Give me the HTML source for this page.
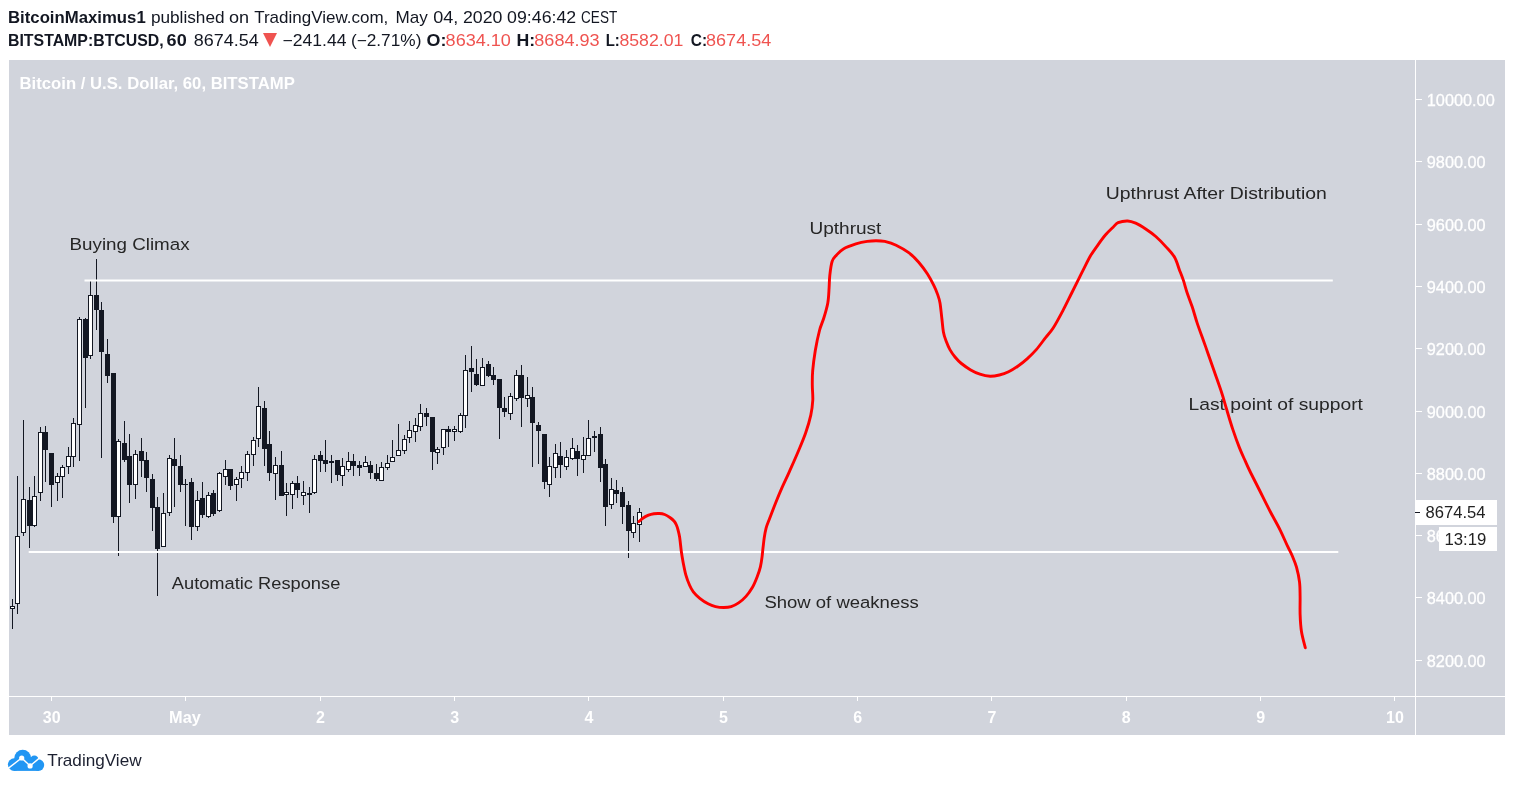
<!DOCTYPE html>
<html><head><meta charset="utf-8"><title>BTCUSD chart</title>
<style>
html,body{margin:0;padding:0;background:#fff;}
body{width:1514px;height:785px;overflow:hidden;position:relative;}
svg{position:absolute;left:0;top:0;display:block;will-change:transform;}
text{font-family:"Liberation Sans",sans-serif;white-space:pre;}
</style></head><body>
<svg width="1514" height="785" viewBox="0 0 1514 785">
<text x="8.0" y="22.7" font-size="16.2" fill="#131722" font-weight="bold" text-anchor="start" textLength="137.7" lengthAdjust="spacingAndGlyphs">BitcoinMaximus1</text>
<text x="150.9" y="22.7" font-size="16.2" fill="#131722" font-weight="normal" text-anchor="start" textLength="73.7" lengthAdjust="spacingAndGlyphs">published</text>
<text x="228.9" y="22.7" font-size="16.2" fill="#131722" font-weight="normal" text-anchor="start" textLength="20.1" lengthAdjust="spacingAndGlyphs">on</text>
<text x="254.2" y="22.7" font-size="16.2" fill="#131722" font-weight="normal" text-anchor="start" textLength="134.1" lengthAdjust="spacingAndGlyphs">TradingView.com,</text>
<text x="395.4" y="22.7" font-size="16.2" fill="#131722" font-weight="normal" text-anchor="start" textLength="32.3" lengthAdjust="spacingAndGlyphs">May</text>
<text x="433.2" y="22.7" font-size="16.2" fill="#131722" font-weight="normal" text-anchor="start" textLength="25.1" lengthAdjust="spacingAndGlyphs">04,</text>
<text x="463.0" y="22.7" font-size="16.2" fill="#131722" font-weight="normal" text-anchor="start" textLength="39.5" lengthAdjust="spacingAndGlyphs">2020</text>
<text x="507.1" y="22.7" font-size="16.2" fill="#131722" font-weight="normal" text-anchor="start" textLength="69.1" lengthAdjust="spacingAndGlyphs">09:46:42</text>
<text x="581.1" y="22.7" font-size="16.2" fill="#131722" font-weight="normal" text-anchor="start" textLength="36.1" lengthAdjust="spacingAndGlyphs">CEST</text>
<text x="8.0" y="46" font-size="16.2" fill="#131722" font-weight="bold" text-anchor="start" textLength="155.7" lengthAdjust="spacingAndGlyphs">BITSTAMP:BTCUSD,</text>
<text x="166.6" y="46" font-size="16.2" fill="#131722" font-weight="bold" text-anchor="start" textLength="20.1" lengthAdjust="spacingAndGlyphs">60</text>
<text x="193.8" y="46" font-size="16.2" fill="#131722" font-weight="normal" text-anchor="start" textLength="64.9" lengthAdjust="spacingAndGlyphs">8674.54</text>
<text x="282.5" y="46" font-size="16.2" fill="#131722" font-weight="normal" text-anchor="start" textLength="63.9" lengthAdjust="spacingAndGlyphs">−241.44</text>
<text x="350.9" y="46" font-size="16.2" fill="#131722" font-weight="normal" text-anchor="start" textLength="70.5" lengthAdjust="spacingAndGlyphs">(−2.71%)</text>
<text x="426.6" y="46" font-size="16.2" fill="#131722" font-weight="bold" text-anchor="start" textLength="19.9" lengthAdjust="spacingAndGlyphs">O:</text>
<text x="445.6" y="46" font-size="16.2" fill="#ef5350" font-weight="normal" text-anchor="start" textLength="65.3" lengthAdjust="spacingAndGlyphs">8634.10</text>
<text x="516.4" y="46" font-size="16.2" fill="#131722" font-weight="bold" text-anchor="start" textLength="18.7" lengthAdjust="spacingAndGlyphs">H:</text>
<text x="534.3" y="46" font-size="16.2" fill="#ef5350" font-weight="normal" text-anchor="start" textLength="65.3" lengthAdjust="spacingAndGlyphs">8684.93</text>
<text x="605.7" y="46" font-size="16.2" fill="#131722" font-weight="bold" text-anchor="start" textLength="14.1" lengthAdjust="spacingAndGlyphs">L:</text>
<text x="619.4" y="46" font-size="16.2" fill="#ef5350" font-weight="normal" text-anchor="start" textLength="63.9" lengthAdjust="spacingAndGlyphs">8582.01</text>
<text x="690.8" y="46" font-size="16.2" fill="#131722" font-weight="bold" text-anchor="start" textLength="16.3" lengthAdjust="spacingAndGlyphs">C:</text>
<text x="706.1" y="46" font-size="16.2" fill="#ef5350" font-weight="normal" text-anchor="start" textLength="65.1" lengthAdjust="spacingAndGlyphs">8674.54</text>
<path d="M263,32.9 L277,32.9 L270,46.9 Z" fill="#ef5350"/>
<rect x="9" y="60" width="1496" height="675" fill="#d1d4dc"/>
<text x="19.5" y="89.1" font-size="16.2" fill="#fff" font-weight="bold" text-anchor="start" textLength="275.3" lengthAdjust="spacingAndGlyphs">Bitcoin / U.S. Dollar, 60, BITSTAMP</text>
<rect x="1415" y="60" width="1" height="675" fill="#fff"/>
<rect x="9" y="696" width="1496" height="1" fill="#fff"/>
<rect x="1416" y="99" width="6" height="1" fill="#fff"/>
<text x="1426.8" y="105.8" font-size="16.3" fill="#fff" font-weight="normal" text-anchor="start" stroke="#fff" stroke-width="0.3">10000.00</text>
<rect x="1416" y="161" width="6" height="1" fill="#fff"/>
<text x="1426.8" y="167.8" font-size="16.3" fill="#fff" font-weight="normal" text-anchor="start" stroke="#fff" stroke-width="0.3">9800.00</text>
<rect x="1416" y="224" width="6" height="1" fill="#fff"/>
<text x="1426.8" y="230.8" font-size="16.3" fill="#fff" font-weight="normal" text-anchor="start" stroke="#fff" stroke-width="0.3">9600.00</text>
<rect x="1416" y="286" width="6" height="1" fill="#fff"/>
<text x="1426.8" y="292.8" font-size="16.3" fill="#fff" font-weight="normal" text-anchor="start" stroke="#fff" stroke-width="0.3">9400.00</text>
<rect x="1416" y="348" width="6" height="1" fill="#fff"/>
<text x="1426.8" y="354.8" font-size="16.3" fill="#fff" font-weight="normal" text-anchor="start" stroke="#fff" stroke-width="0.3">9200.00</text>
<rect x="1416" y="411" width="6" height="1" fill="#fff"/>
<text x="1426.8" y="417.8" font-size="16.3" fill="#fff" font-weight="normal" text-anchor="start" stroke="#fff" stroke-width="0.3">9000.00</text>
<rect x="1416" y="473" width="6" height="1" fill="#fff"/>
<text x="1426.8" y="479.8" font-size="16.3" fill="#fff" font-weight="normal" text-anchor="start" stroke="#fff" stroke-width="0.3">8800.00</text>
<rect x="1416" y="535" width="6" height="1" fill="#fff"/>
<text x="1426.8" y="541.8" font-size="16.3" fill="#fff" font-weight="normal" text-anchor="start" stroke="#fff" stroke-width="0.3">8600.00</text>
<rect x="1416" y="597" width="6" height="1" fill="#fff"/>
<text x="1426.8" y="603.8" font-size="16.3" fill="#fff" font-weight="normal" text-anchor="start" stroke="#fff" stroke-width="0.3">8400.00</text>
<rect x="1416" y="660" width="6" height="1" fill="#fff"/>
<text x="1426.8" y="666.8" font-size="16.3" fill="#fff" font-weight="normal" text-anchor="start" stroke="#fff" stroke-width="0.3">8200.00</text>
<rect x="51" y="697" width="1" height="4" fill="#fff"/>
<text x="51.7" y="722.9" font-size="16" fill="#fff" font-weight="bold" text-anchor="middle">30</text>
<rect x="185" y="697" width="1" height="4" fill="#fff"/>
<text x="169.1" y="722.9" font-size="16" fill="#fff" font-weight="bold" text-anchor="start" textLength="31.7" lengthAdjust="spacingAndGlyphs">May</text>
<rect x="320" y="697" width="1" height="4" fill="#fff"/>
<text x="320.4" y="722.9" font-size="16" fill="#fff" font-weight="bold" text-anchor="middle">2</text>
<rect x="454" y="697" width="1" height="4" fill="#fff"/>
<text x="454.7" y="722.9" font-size="16" fill="#fff" font-weight="bold" text-anchor="middle">3</text>
<rect x="588" y="697" width="1" height="4" fill="#fff"/>
<text x="589.0" y="722.9" font-size="16" fill="#fff" font-weight="bold" text-anchor="middle">4</text>
<rect x="723" y="697" width="1" height="4" fill="#fff"/>
<text x="723.4" y="722.9" font-size="16" fill="#fff" font-weight="bold" text-anchor="middle">5</text>
<rect x="857" y="697" width="1" height="4" fill="#fff"/>
<text x="857.7" y="722.9" font-size="16" fill="#fff" font-weight="bold" text-anchor="middle">6</text>
<rect x="991" y="697" width="1" height="4" fill="#fff"/>
<text x="992.0" y="722.9" font-size="16" fill="#fff" font-weight="bold" text-anchor="middle">7</text>
<rect x="1126" y="697" width="1" height="4" fill="#fff"/>
<text x="1126.3" y="722.9" font-size="16" fill="#fff" font-weight="bold" text-anchor="middle">8</text>
<rect x="1260" y="697" width="1" height="4" fill="#fff"/>
<text x="1260.7" y="722.9" font-size="16" fill="#fff" font-weight="bold" text-anchor="middle">9</text>
<rect x="1394" y="697" width="1" height="4" fill="#fff"/>
<text x="1395.0" y="722.9" font-size="16" fill="#fff" font-weight="bold" text-anchor="middle">10</text>
<g shape-rendering="crispEdges"><rect x="12" y="599" width="1" height="30" fill="#131722"/>
<rect x="10.5" y="606.5" width="4" height="2" fill="#fff" stroke="#131722" stroke-width="1"/>
<rect x="17" y="476" width="1" height="138" fill="#131722"/>
<rect x="15.5" y="536.5" width="4" height="67" fill="#fff" stroke="#131722" stroke-width="1"/>
<rect x="23" y="420" width="1" height="116" fill="#131722"/>
<rect x="21.5" y="499.5" width="4" height="33" fill="#fff" stroke="#131722" stroke-width="1"/>
<rect x="29" y="487" width="1" height="61" fill="#131722"/>
<rect x="27" y="500" width="5" height="26" fill="#131722"/>
<rect x="34" y="476" width="1" height="51" fill="#131722"/>
<rect x="32.5" y="496.5" width="4" height="29" fill="#fff" stroke="#131722" stroke-width="1"/>
<rect x="40" y="427" width="1" height="74" fill="#131722"/>
<rect x="38.5" y="432.5" width="4" height="60" fill="#fff" stroke="#131722" stroke-width="1"/>
<rect x="45" y="426" width="1" height="56" fill="#131722"/>
<rect x="43" y="432" width="5" height="18" fill="#131722"/>
<rect x="51" y="453" width="1" height="54" fill="#131722"/>
<rect x="49" y="453" width="5" height="32" fill="#131722"/>
<rect x="57" y="473" width="1" height="28" fill="#131722"/>
<rect x="55.5" y="476.5" width="4" height="6" fill="#fff" stroke="#131722" stroke-width="1"/>
<rect x="62" y="465" width="1" height="33" fill="#131722"/>
<rect x="60.5" y="467.5" width="4" height="9" fill="#fff" stroke="#131722" stroke-width="1"/>
<rect x="68" y="447" width="1" height="27" fill="#131722"/>
<rect x="66.5" y="456.5" width="4" height="10" fill="#fff" stroke="#131722" stroke-width="1"/>
<rect x="73" y="418" width="1" height="49" fill="#131722"/>
<rect x="71.5" y="423.5" width="4" height="33" fill="#fff" stroke="#131722" stroke-width="1"/>
<rect x="79" y="317" width="1" height="144" fill="#131722"/>
<rect x="77.5" y="319.5" width="4" height="105" fill="#fff" stroke="#131722" stroke-width="1"/>
<rect x="85" y="318" width="1" height="90" fill="#131722"/>
<rect x="83" y="319" width="5" height="39" fill="#131722"/>
<rect x="90" y="281" width="1" height="78" fill="#131722"/>
<rect x="88.5" y="295.5" width="4" height="60" fill="#fff" stroke="#131722" stroke-width="1"/>
<rect x="96" y="259" width="1" height="71" fill="#131722"/>
<rect x="94" y="295" width="5" height="15" fill="#131722"/>
<rect x="101" y="302" width="1" height="156" fill="#131722"/>
<rect x="99" y="310" width="5" height="42" fill="#131722"/>
<rect x="107" y="339" width="1" height="44" fill="#131722"/>
<rect x="105" y="354" width="5" height="22" fill="#131722"/>
<rect x="113" y="373" width="1" height="150" fill="#131722"/>
<rect x="111" y="373" width="5" height="144" fill="#131722"/>
<rect x="118" y="439" width="1" height="117" fill="#131722"/>
<rect x="116.5" y="441.5" width="4" height="75" fill="#fff" stroke="#131722" stroke-width="1"/>
<rect x="124" y="421" width="1" height="41" fill="#131722"/>
<rect x="122" y="443" width="5" height="17" fill="#131722"/>
<rect x="129" y="434" width="1" height="69" fill="#131722"/>
<rect x="127" y="456" width="5" height="29" fill="#131722"/>
<rect x="135" y="450" width="1" height="49" fill="#131722"/>
<rect x="133.5" y="454.5" width="4" height="30" fill="#fff" stroke="#131722" stroke-width="1"/>
<rect x="141" y="438" width="1" height="39" fill="#131722"/>
<rect x="139" y="451" width="5" height="10" fill="#131722"/>
<rect x="146" y="452" width="1" height="40" fill="#131722"/>
<rect x="144" y="460" width="5" height="18" fill="#131722"/>
<rect x="152" y="474" width="1" height="57" fill="#131722"/>
<rect x="150" y="479" width="5" height="29" fill="#131722"/>
<rect x="157" y="497" width="1" height="99" fill="#131722"/>
<rect x="155" y="507" width="5" height="42" fill="#131722"/>
<rect x="163" y="493" width="1" height="54" fill="#131722"/>
<rect x="161.5" y="513.5" width="4" height="33" fill="#fff" stroke="#131722" stroke-width="1"/>
<rect x="169" y="455" width="1" height="61" fill="#131722"/>
<rect x="167.5" y="458.5" width="4" height="54" fill="#fff" stroke="#131722" stroke-width="1"/>
<rect x="174" y="438" width="1" height="69" fill="#131722"/>
<rect x="172" y="459" width="5" height="7" fill="#131722"/>
<rect x="180" y="455" width="1" height="37" fill="#131722"/>
<rect x="178" y="466" width="5" height="19" fill="#131722"/>
<rect x="185" y="479" width="1" height="47" fill="#131722"/>
<rect x="183" y="484" width="5" height="1" fill="#131722"/>
<rect x="191" y="478" width="1" height="62" fill="#131722"/>
<rect x="189" y="482" width="5" height="45" fill="#131722"/>
<rect x="197" y="491" width="1" height="40" fill="#131722"/>
<rect x="195.5" y="500.5" width="4" height="26" fill="#fff" stroke="#131722" stroke-width="1"/>
<rect x="202" y="482" width="1" height="36" fill="#131722"/>
<rect x="200" y="498" width="5" height="17" fill="#131722"/>
<rect x="208" y="492" width="1" height="26" fill="#131722"/>
<rect x="206.5" y="495.5" width="4" height="21" fill="#fff" stroke="#131722" stroke-width="1"/>
<rect x="213" y="490" width="1" height="26" fill="#131722"/>
<rect x="211" y="493" width="5" height="21" fill="#131722"/>
<rect x="219" y="472" width="1" height="40" fill="#131722"/>
<rect x="217.5" y="473.5" width="4" height="37" fill="#fff" stroke="#131722" stroke-width="1"/>
<rect x="225" y="460" width="1" height="25" fill="#131722"/>
<rect x="223.5" y="469.5" width="4" height="7" fill="#fff" stroke="#131722" stroke-width="1"/>
<rect x="230" y="469" width="1" height="21" fill="#131722"/>
<rect x="228" y="469" width="5" height="17" fill="#131722"/>
<rect x="236" y="477" width="1" height="24" fill="#131722"/>
<rect x="234.5" y="479.5" width="4" height="5" fill="#fff" stroke="#131722" stroke-width="1"/>
<rect x="241" y="466" width="1" height="22" fill="#131722"/>
<rect x="239.5" y="472.5" width="4" height="6" fill="#fff" stroke="#131722" stroke-width="1"/>
<rect x="247" y="451" width="1" height="30" fill="#131722"/>
<rect x="245.5" y="454.5" width="4" height="18" fill="#fff" stroke="#131722" stroke-width="1"/>
<rect x="253" y="437" width="1" height="29" fill="#131722"/>
<rect x="251.5" y="440.5" width="4" height="14" fill="#fff" stroke="#131722" stroke-width="1"/>
<rect x="258" y="387" width="1" height="60" fill="#131722"/>
<rect x="256.5" y="406.5" width="4" height="32" fill="#fff" stroke="#131722" stroke-width="1"/>
<rect x="264" y="401" width="1" height="65" fill="#131722"/>
<rect x="262" y="408" width="5" height="41" fill="#131722"/>
<rect x="269" y="431" width="1" height="50" fill="#131722"/>
<rect x="267" y="444" width="5" height="29" fill="#131722"/>
<rect x="275" y="457" width="1" height="43" fill="#131722"/>
<rect x="273.5" y="465.5" width="4" height="8" fill="#fff" stroke="#131722" stroke-width="1"/>
<rect x="281" y="451" width="1" height="45" fill="#131722"/>
<rect x="279" y="465" width="5" height="31" fill="#131722"/>
<rect x="286" y="483" width="1" height="33" fill="#131722"/>
<rect x="284.5" y="492.5" width="4" height="2" fill="#fff" stroke="#131722" stroke-width="1"/>
<rect x="292" y="481" width="1" height="28" fill="#131722"/>
<rect x="290.5" y="483.5" width="4" height="11" fill="#fff" stroke="#131722" stroke-width="1"/>
<rect x="297" y="476" width="1" height="22" fill="#131722"/>
<rect x="295" y="483" width="5" height="7" fill="#131722"/>
<rect x="303" y="481" width="1" height="24" fill="#131722"/>
<rect x="301.5" y="492.5" width="4" height="3" fill="#fff" stroke="#131722" stroke-width="1"/>
<rect x="309" y="487" width="1" height="26" fill="#131722"/>
<rect x="307" y="493" width="5" height="2" fill="#131722"/>
<rect x="314" y="455" width="1" height="39" fill="#131722"/>
<rect x="312.5" y="459.5" width="4" height="33" fill="#fff" stroke="#131722" stroke-width="1"/>
<rect x="320" y="451" width="1" height="21" fill="#131722"/>
<rect x="318" y="455" width="5" height="6" fill="#131722"/>
<rect x="325" y="440" width="1" height="32" fill="#131722"/>
<rect x="323" y="460" width="5" height="4" fill="#131722"/>
<rect x="331" y="455" width="1" height="28" fill="#131722"/>
<rect x="329" y="461" width="5" height="2" fill="#131722"/>
<rect x="337" y="460" width="1" height="21" fill="#131722"/>
<rect x="335" y="460" width="5" height="15" fill="#131722"/>
<rect x="342" y="458" width="1" height="28" fill="#131722"/>
<rect x="340.5" y="466.5" width="4" height="9" fill="#fff" stroke="#131722" stroke-width="1"/>
<rect x="348" y="452" width="1" height="20" fill="#131722"/>
<rect x="346.5" y="461.5" width="4" height="8" fill="#fff" stroke="#131722" stroke-width="1"/>
<rect x="353" y="454" width="1" height="22" fill="#131722"/>
<rect x="351" y="461" width="5" height="5" fill="#131722"/>
<rect x="359" y="461" width="1" height="15" fill="#131722"/>
<rect x="357" y="465" width="5" height="3" fill="#131722"/>
<rect x="365" y="456" width="1" height="11" fill="#131722"/>
<rect x="363.5" y="462.5" width="4" height="4" fill="#fff" stroke="#131722" stroke-width="1"/>
<rect x="370" y="461" width="1" height="18" fill="#131722"/>
<rect x="368" y="465" width="5" height="8" fill="#131722"/>
<rect x="376" y="464" width="1" height="17" fill="#131722"/>
<rect x="374" y="473" width="5" height="6" fill="#131722"/>
<rect x="381" y="462" width="1" height="19" fill="#131722"/>
<rect x="379.5" y="467.5" width="4" height="13" fill="#fff" stroke="#131722" stroke-width="1"/>
<rect x="387" y="455" width="1" height="15" fill="#131722"/>
<rect x="385.5" y="463.5" width="4" height="4" fill="#fff" stroke="#131722" stroke-width="1"/>
<rect x="392" y="440" width="1" height="22" fill="#131722"/>
<rect x="390.5" y="457.5" width="4" height="4" fill="#fff" stroke="#131722" stroke-width="1"/>
<rect x="398" y="424" width="1" height="32" fill="#131722"/>
<rect x="396.5" y="450.5" width="4" height="5" fill="#fff" stroke="#131722" stroke-width="1"/>
<rect x="404" y="435" width="1" height="19" fill="#131722"/>
<rect x="402.5" y="439.5" width="4" height="11" fill="#fff" stroke="#131722" stroke-width="1"/>
<rect x="409" y="421" width="1" height="22" fill="#131722"/>
<rect x="407.5" y="430.5" width="4" height="7" fill="#fff" stroke="#131722" stroke-width="1"/>
<rect x="415" y="418" width="1" height="24" fill="#131722"/>
<rect x="413.5" y="425.5" width="4" height="6" fill="#fff" stroke="#131722" stroke-width="1"/>
<rect x="420" y="404" width="1" height="27" fill="#131722"/>
<rect x="418.5" y="413.5" width="4" height="13" fill="#fff" stroke="#131722" stroke-width="1"/>
<rect x="426" y="408" width="1" height="18" fill="#131722"/>
<rect x="424" y="413" width="5" height="4" fill="#131722"/>
<rect x="432" y="417" width="1" height="53" fill="#131722"/>
<rect x="430" y="417" width="5" height="35" fill="#131722"/>
<rect x="437" y="447" width="1" height="17" fill="#131722"/>
<rect x="435.5" y="449.5" width="4" height="3" fill="#fff" stroke="#131722" stroke-width="1"/>
<rect x="443" y="429" width="1" height="26" fill="#131722"/>
<rect x="441.5" y="429.5" width="4" height="18" fill="#fff" stroke="#131722" stroke-width="1"/>
<rect x="448" y="426" width="1" height="21" fill="#131722"/>
<rect x="446" y="429" width="5" height="3" fill="#131722"/>
<rect x="454" y="426" width="1" height="15" fill="#131722"/>
<rect x="452.5" y="429.5" width="4" height="2" fill="#fff" stroke="#131722" stroke-width="1"/>
<rect x="460" y="413" width="1" height="20" fill="#131722"/>
<rect x="458.5" y="415.5" width="4" height="16" fill="#fff" stroke="#131722" stroke-width="1"/>
<rect x="465" y="355" width="1" height="73" fill="#131722"/>
<rect x="463.5" y="370.5" width="4" height="45" fill="#fff" stroke="#131722" stroke-width="1"/>
<rect x="471" y="346" width="1" height="46" fill="#131722"/>
<rect x="469" y="368" width="5" height="4" fill="#131722"/>
<rect x="476" y="359" width="1" height="27" fill="#131722"/>
<rect x="474" y="374" width="5" height="11" fill="#131722"/>
<rect x="482" y="358" width="1" height="28" fill="#131722"/>
<rect x="480.5" y="367.5" width="4" height="18" fill="#fff" stroke="#131722" stroke-width="1"/>
<rect x="488" y="361" width="1" height="16" fill="#131722"/>
<rect x="486" y="364" width="5" height="12" fill="#131722"/>
<rect x="493" y="367" width="1" height="18" fill="#131722"/>
<rect x="491" y="375" width="5" height="5" fill="#131722"/>
<rect x="499" y="379" width="1" height="60" fill="#131722"/>
<rect x="497" y="379" width="5" height="29" fill="#131722"/>
<rect x="504" y="397" width="1" height="20" fill="#131722"/>
<rect x="502" y="408" width="5" height="4" fill="#131722"/>
<rect x="510" y="393" width="1" height="27" fill="#131722"/>
<rect x="508.5" y="396.5" width="4" height="17" fill="#fff" stroke="#131722" stroke-width="1"/>
<rect x="516" y="370" width="1" height="31" fill="#131722"/>
<rect x="514.5" y="375.5" width="4" height="23" fill="#fff" stroke="#131722" stroke-width="1"/>
<rect x="521" y="365" width="1" height="62" fill="#131722"/>
<rect x="519" y="375" width="5" height="23" fill="#131722"/>
<rect x="527" y="377" width="1" height="30" fill="#131722"/>
<rect x="525.5" y="395.5" width="4" height="3" fill="#fff" stroke="#131722" stroke-width="1"/>
<rect x="532" y="387" width="1" height="80" fill="#131722"/>
<rect x="530" y="397" width="5" height="26" fill="#131722"/>
<rect x="538" y="422" width="1" height="42" fill="#131722"/>
<rect x="536" y="425" width="5" height="6" fill="#131722"/>
<rect x="544" y="434" width="1" height="55" fill="#131722"/>
<rect x="542" y="434" width="5" height="48" fill="#131722"/>
<rect x="549" y="457" width="1" height="40" fill="#131722"/>
<rect x="547.5" y="466.5" width="4" height="18" fill="#fff" stroke="#131722" stroke-width="1"/>
<rect x="555" y="444" width="1" height="34" fill="#131722"/>
<rect x="553.5" y="453.5" width="4" height="14" fill="#fff" stroke="#131722" stroke-width="1"/>
<rect x="560" y="442" width="1" height="36" fill="#131722"/>
<rect x="558" y="456" width="5" height="9" fill="#131722"/>
<rect x="566" y="450" width="1" height="20" fill="#131722"/>
<rect x="564.5" y="457.5" width="4" height="9" fill="#fff" stroke="#131722" stroke-width="1"/>
<rect x="572" y="438" width="1" height="22" fill="#131722"/>
<rect x="570.5" y="448.5" width="4" height="10" fill="#fff" stroke="#131722" stroke-width="1"/>
<rect x="577" y="445" width="1" height="31" fill="#131722"/>
<rect x="575" y="451" width="5" height="8" fill="#131722"/>
<rect x="583" y="437" width="1" height="36" fill="#131722"/>
<rect x="581.5" y="455.5" width="4" height="4" fill="#fff" stroke="#131722" stroke-width="1"/>
<rect x="588" y="420" width="1" height="36" fill="#131722"/>
<rect x="586.5" y="438.5" width="4" height="17" fill="#fff" stroke="#131722" stroke-width="1"/>
<rect x="594" y="431" width="1" height="21" fill="#131722"/>
<rect x="592" y="436" width="5" height="2" fill="#131722"/>
<rect x="600" y="427" width="1" height="55" fill="#131722"/>
<rect x="598" y="434" width="5" height="34" fill="#131722"/>
<rect x="605" y="459" width="1" height="67" fill="#131722"/>
<rect x="603" y="464" width="5" height="43" fill="#131722"/>
<rect x="611" y="478" width="1" height="31" fill="#131722"/>
<rect x="609.5" y="489.5" width="4" height="15" fill="#fff" stroke="#131722" stroke-width="1"/>
<rect x="616" y="480" width="1" height="23" fill="#131722"/>
<rect x="614" y="490" width="5" height="4" fill="#131722"/>
<rect x="622" y="487" width="1" height="37" fill="#131722"/>
<rect x="620" y="492" width="5" height="15" fill="#131722"/>
<rect x="628" y="501" width="1" height="57" fill="#131722"/>
<rect x="626" y="505" width="5" height="26" fill="#131722"/>
<rect x="633" y="516" width="1" height="22" fill="#131722"/>
<rect x="631.5" y="523.5" width="4" height="9" fill="#fff" stroke="#131722" stroke-width="1"/>
<rect x="639" y="508" width="1" height="34" fill="#131722"/>
<rect x="637.5" y="512.5" width="4" height="12" fill="#fff" stroke="#131722" stroke-width="1"/></g>
<rect x="84.5" y="279.5" width="1248.3" height="2" fill="#fff"/>
<rect x="28.7" y="551" width="1309.6" height="2" fill="#fff"/>
<text x="69.5" y="249.8" font-size="16.3" fill="#262626" font-weight="normal" text-anchor="start" textLength="120.1" lengthAdjust="spacingAndGlyphs">Buying Climax</text>
<text x="171.8" y="588.9" font-size="16.3" fill="#262626" font-weight="normal" text-anchor="start" textLength="168.5" lengthAdjust="spacingAndGlyphs">Automatic Response</text>
<text x="809.5" y="233.9" font-size="16.3" fill="#262626" font-weight="normal" text-anchor="start" textLength="71.9" lengthAdjust="spacingAndGlyphs">Upthrust</text>
<text x="764.4" y="607.9" font-size="16.3" fill="#262626" font-weight="normal" text-anchor="start" textLength="154.3" lengthAdjust="spacingAndGlyphs">Show of weakness</text>
<text x="1105.8" y="198.9" font-size="16.3" fill="#262626" font-weight="normal" text-anchor="start" textLength="221.1" lengthAdjust="spacingAndGlyphs">Upthrust After Distribution</text>
<text x="1188.6" y="409.9" font-size="16.3" fill="#262626" font-weight="normal" text-anchor="start" textLength="174.3" lengthAdjust="spacingAndGlyphs">Last point of support</text>
<path d="M638.9,521.6C639.6,521.0 641.6,519.1 643.2,518.0C644.8,516.9 646.7,515.9 648.5,515.2C650.3,514.5 652.1,514.1 653.9,513.8C655.7,513.5 657.4,513.4 659.2,513.5C661.0,513.6 662.8,513.8 664.6,514.5C666.4,515.2 668.3,516.4 669.9,517.5C671.5,518.6 673.1,520.0 674.2,521.2C675.3,522.5 675.8,523.6 676.4,525.0C677.0,526.4 677.5,527.8 678.0,529.8C678.5,531.8 679.0,533.3 679.6,537.0C680.2,540.7 680.8,547.8 681.4,552.0C682.0,556.2 682.4,558.4 683.1,562.2C683.9,566.1 684.8,571.2 685.9,575.1C687.0,579.0 688.4,582.5 689.6,585.3C690.8,588.1 691.6,589.6 693.3,591.8C695.0,594.0 697.3,596.3 699.8,598.3C702.3,600.3 705.5,602.4 708.1,603.8C710.7,605.2 712.9,606.0 715.5,606.6C718.1,607.2 721.2,607.5 723.8,607.5C726.4,607.5 728.7,607.4 731.2,606.6C733.7,605.8 736.1,604.6 738.6,602.9C741.1,601.2 743.7,599.0 746.0,596.4C748.3,593.8 750.6,590.4 752.5,587.2C754.4,584.0 755.8,580.4 757.1,577.0C758.4,573.6 759.6,570.2 760.4,566.8C761.2,563.4 761.7,559.7 762.1,556.6C762.5,553.5 762.6,551.1 763.0,548.0C763.4,544.9 763.7,541.3 764.2,538.0C764.7,534.7 765.2,531.4 766.1,528.1C767.0,524.8 768.2,522.2 769.8,518.0C771.4,513.8 773.6,508.0 775.6,503.0C777.6,498.0 779.6,493.1 781.9,487.9C784.2,482.7 786.7,477.7 789.4,471.6C792.1,465.5 795.5,458.0 798.2,451.5C800.9,445.0 803.6,438.8 805.7,432.7C807.8,426.6 809.6,420.6 810.8,415.1C812.0,409.7 812.5,405.0 812.8,400.0C813.0,395.0 812.3,389.9 812.3,385.0C812.3,380.1 812.2,376.4 812.7,370.7C813.2,365.0 814.2,357.3 815.3,350.6C816.4,343.9 818.1,335.9 819.5,330.5C820.9,325.1 822.4,322.6 823.8,318.0C825.2,313.4 826.9,307.9 827.8,302.9C828.7,297.9 828.8,292.5 829.1,287.9C829.4,283.3 829.3,279.7 829.8,275.3C830.3,270.9 831.0,264.9 832.1,261.5C833.2,258.1 834.5,257.3 836.4,255.2C838.3,253.1 840.1,250.8 843.4,248.9C846.6,247.0 851.9,245.2 855.9,243.9C859.9,242.7 863.9,241.9 867.2,241.4C870.6,240.9 873.1,240.7 876.0,240.7C878.9,240.7 881.4,240.7 884.8,241.4C888.1,242.2 892.1,243.3 896.1,245.2C900.1,247.1 904.9,249.9 908.7,252.7C912.5,255.5 915.6,258.6 918.7,262.2C921.8,265.8 925.0,270.1 927.5,274.0C930.0,277.9 932.1,281.9 933.8,285.3C935.5,288.7 936.5,291.2 937.5,294.1C938.5,297.0 939.3,298.9 940.0,302.9C940.7,306.9 941.2,313.1 941.8,318.0C942.4,322.9 942.7,328.1 943.4,332.0C944.1,335.9 945.1,338.4 946.2,341.3C947.3,344.2 948.4,347.0 949.9,349.6C951.4,352.2 953.1,354.7 955.0,357.0C956.9,359.3 958.8,361.4 961.4,363.5C964.0,365.6 967.6,368.1 970.7,369.9C973.8,371.7 976.7,373.1 979.9,374.1C983.1,375.2 986.9,376.1 990.1,376.2C993.4,376.3 996.3,375.7 999.4,375.0C1002.5,374.3 1005.5,373.3 1008.6,371.8C1011.7,370.3 1014.7,368.4 1017.8,366.2C1020.9,364.0 1024.0,361.6 1027.1,358.8C1030.2,356.0 1033.2,353.1 1036.3,349.6C1039.4,346.1 1042.8,341.2 1045.6,337.6C1048.4,334.1 1050.1,332.8 1053.0,328.3C1055.9,323.8 1059.8,316.5 1062.9,310.6C1066.0,304.7 1069.2,298.0 1071.7,293.0C1074.2,288.0 1076.1,284.2 1078.0,280.4C1079.9,276.6 1080.9,274.5 1083.0,270.4C1085.1,266.3 1088.0,260.1 1090.5,255.8C1093.0,251.5 1095.5,248.3 1098.0,244.8C1100.5,241.3 1103.1,237.7 1105.6,234.8C1108.1,231.9 1111.0,229.2 1113.1,227.2C1115.2,225.2 1115.7,223.7 1118.1,222.7C1120.5,221.7 1124.8,220.9 1127.7,221.0C1130.6,221.1 1132.7,221.9 1135.7,223.2C1138.7,224.5 1142.4,226.8 1145.7,229.0C1149.0,231.2 1152.5,233.6 1155.8,236.5C1159.1,239.4 1162.7,243.1 1165.8,246.6C1168.9,250.1 1172.3,253.3 1174.6,257.3C1176.9,261.3 1178.1,266.5 1179.6,270.4C1181.1,274.2 1182.1,276.6 1183.4,280.4C1184.7,284.2 1185.7,288.6 1187.2,293.0C1188.7,297.4 1190.5,301.8 1192.2,306.8C1193.9,311.8 1195.3,317.5 1197.2,323.1C1199.1,328.8 1201.7,335.7 1203.5,340.7C1205.3,345.7 1206.2,348.3 1207.9,353.2C1209.6,358.1 1211.5,363.4 1213.7,369.8C1215.9,376.2 1219.1,385.0 1221.2,391.3C1223.3,397.6 1224.3,401.5 1226.2,407.9C1228.1,414.2 1230.6,422.8 1232.8,429.4C1235.0,436.0 1237.3,442.4 1239.4,447.6C1241.5,452.9 1243.5,457.1 1245.2,460.9C1246.9,464.7 1247.1,465.5 1249.6,470.5C1252.0,475.5 1256.5,484.2 1259.9,491.0C1263.3,497.8 1266.8,504.9 1270.2,511.5C1273.6,518.1 1277.5,524.7 1280.4,530.6C1283.3,536.5 1285.8,542.6 1287.8,546.7C1289.8,550.9 1290.6,552.1 1292.1,555.5C1293.5,558.9 1295.3,562.8 1296.5,567.2C1297.7,571.6 1298.9,577.0 1299.5,581.9C1300.1,586.8 1300.0,591.1 1300.1,596.5C1300.2,601.9 1299.9,608.2 1300.1,614.1C1300.3,620.0 1300.6,626.1 1301.5,631.7C1302.4,637.3 1304.7,645.1 1305.3,647.8" fill="none" stroke="#ff0000" stroke-width="2.9" stroke-linecap="round" stroke-linejoin="round"/>
<rect x="1416" y="500" width="81" height="25" fill="#fff"/>
<rect x="1415" y="512" width="5" height="1" fill="#131722"/>
<text x="1425.6" y="518.1" font-size="16.3" fill="#222" font-weight="normal" text-anchor="start" textLength="59.9" lengthAdjust="spacingAndGlyphs">8674.54</text>
<rect x="1439" y="527" width="58" height="24" fill="#fff"/>
<text x="1444.4" y="544.8" font-size="16.3" fill="#222" font-weight="normal" text-anchor="start" textLength="41.9" lengthAdjust="spacingAndGlyphs">13:19</text>
<g>
<g fill="#2196f3">
<circle cx="14.2" cy="764.6" r="6.3"/>
<circle cx="22.7" cy="758.2" r="8.4"/>
<circle cx="34.3" cy="760.2" r="4.6"/>
<circle cx="38.4" cy="765.1" r="5.8"/>
<rect x="14.2" y="759" width="24.2" height="11.9"/>
</g>
<path d="M6.5,769.6 L21.7,758 L30.1,765.9 L43.2,754.9" fill="none" stroke="#fff" stroke-width="1.4"/>
<circle cx="21.7" cy="758" r="2.6" fill="#fff"/>
<circle cx="30.1" cy="765.9" r="2.6" fill="#fff"/>
</g>
<text x="47.3" y="765.8" font-size="17" fill="#1c2030" font-weight="normal" text-anchor="start" textLength="94.3" lengthAdjust="spacingAndGlyphs">TradingView</text>
</svg>
</body></html>
